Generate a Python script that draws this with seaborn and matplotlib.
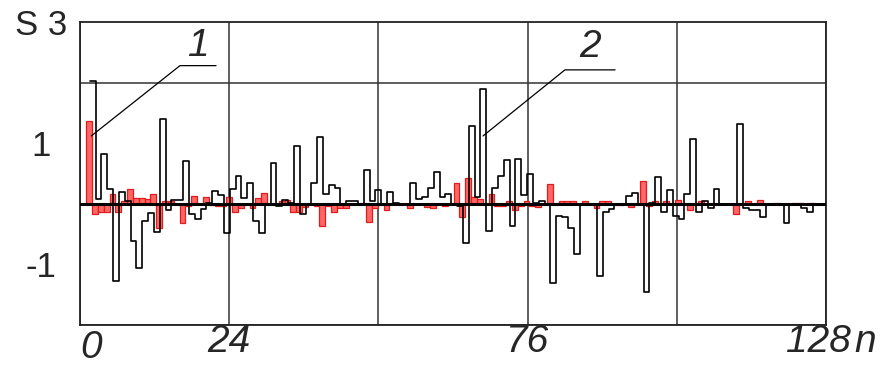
import numpy as np
import matplotlib.pyplot as plt
import matplotlib.transforms as mtransforms
import seaborn as sns

# curve 2 (black steps), samples n = 1..126
black_vals = [2.03, 0.08, 0.82, 0.24, -1.28, 0.19, 0.04, -0.62, -1.06, -0.28,
              -0.15, -0.47, 1.40, -0.10, 0.07, 0.06, 0.70, -0.17, -0.25, -0.09,
              0.01, 0.21, 0.15, -0.48, 0.24, 0.46, 0.09, 0.35, -0.29, -0.48,
              0.00, 0.67, -0.04, 0.07, 0.01, 0.95, -0.17, 0.00, 0.35, 1.10,
              0.16, 0.31, 0.26, 0.00, 0.05, 0.05, 0.00, 0.55, 0.05, 0.22,
              0.00, 0.19, 0.02, 0.00, 0.00, 0.35, 0.08, 0.12, 0.26, 0.52,
              0.11, 0.16, 0.00, -0.03, -0.64, 1.28, 0.12, 1.90, -0.45, 0.26,
              0.46, 0.72, -0.36, 0.74, 0.15, 0.50, 0.02, 0.05, 0.00, -1.30,
              -0.20, -0.22, -0.40, -0.83, -0.02, -0.02, -0.02, -1.19, -0.13, -0.08,
              -0.02, 0.00, 0.13, 0.18, 0.00, -1.45, 0.02, 0.44, -0.13, 0.22,
              -0.20, -0.25, 0.16, 1.07, -0.14, 0.04, -0.07, 0.24, 0.00, 0.00,
              0.00, 1.32, -0.07, -0.10, -0.10, -0.21, -0.02, -0.02, 0.00, -0.32,
              -0.02, -0.02, -0.07, -0.14, -0.02, -0.02]

# curve 1 (red bars), samples n = 0..126
red_vals = [1.37, -0.17, -0.13, -0.13, 0.16, -0.14, 0.05, 0.24, 0.09, 0.09,
            0.08, 0.16, -0.40, 0.04, 0.05, 0.00, -0.32, -0.04, 0.13, 0.00,
            0.12, -0.02, -0.04, -0.04, 0.12, -0.13, -0.07, 0.00, -0.07, 0.09,
            0.18, 0.00, -0.02, 0.05, 0.07, -0.13, -0.13, -0.05, 0.00, -0.03,
            -0.36, -0.04, -0.14, -0.07, -0.07, 0.00, 0.00, 0.02, -0.30, -0.07,
            0.00, -0.10, 0.00, 0.00, 0.00, -0.07, 0.00, 0.00, -0.06, -0.07,
            0.00, -0.04, 0.00, 0.35, -0.21, 0.42, 0.12, 0.08, 0.00, 0.16,
            -0.03, -0.03, 0.04, -0.10, -0.04, 0.04, -0.04, -0.06, 0.00, 0.33,
            0.00, 0.04, 0.04, 0.04, 0.00, 0.04, 0.00, -0.07, 0.04, 0.04,
            0.00, -0.02, 0.00, -0.06, 0.00, 0.37, -0.04, 0.04, 0.00, 0.04,
            0.00, 0.07, 0.00, -0.10, 0.00, 0.04, 0.00, 0.00, 0.00, 0.00,
            0.00, -0.17, 0.00, 0.04, 0.00, 0.07, 0.00, 0.00, 0.02, 0.00,
            0.00, 0.02, 0.02, 0.00, 0.02, 0.00, 0.00]

x_labels = ['0', '24', '76', '128']
y_labels = ['-1', '1', 'S 3']

sns.set_style('white')
plt.rcParams['font.family'] = ['Liberation Sans', 'DejaVu Sans']
narrow = ['Liberation Sans Narrow', 'Liberation Sans', 'DejaVu Sans']

x_lo, x_hi = -1.08, 126.88
black_shift = -0.4

fig = plt.figure(figsize=(8.86, 3.65), dpi=100)
ax = fig.add_axes([80 / 886, 40 / 365, 746 / 886, 303 / 365])

# red bars, one unit wide
n_red = np.arange(len(red_vals))
sns.barplot(x=n_red + 0.5, y=red_vals, native_scale=True, width=1.0,
            color='#ff6666', saturation=1, edgecolor='#e01c1c', linewidth=0.9,
            errorbar=None, ax=ax, zorder=2)

# black step curve
n_blk = np.arange(1, len(black_vals) + 2) + black_shift
y_blk = black_vals + [black_vals[-1]]
sns.lineplot(x=n_blk, y=y_blk, drawstyle='steps-post', estimator=None, sort=False,
             color='black', linewidth=1.2, ax=ax, zorder=4)

ax.axhline(0, color='black', linewidth=2.2, zorder=3)

ax.set_xlim(x_lo, x_hi)
ax.set_ylim(-2, 3)
ax.set_xticks(np.linspace(x_lo, x_hi, 6), minor=True)
ax.set_yticks([-2, -1, 0, 1, 2, 3], minor=True)
ax.grid(which='minor', color='#333333', linewidth=1.1)
ax.grid(which='major', visible=False)
ax.set_axisbelow(True)
ax.set_xticks([])
ax.set_yticks([-1, 1, 3])
ax.set_yticklabels(y_labels, fontsize=25)
ax.tick_params(axis='y', which='both', length=0, pad=28)
ax.tick_params(axis='x', which='both', length=0)
for lab in ax.get_yticklabels():
    lab.set_horizontalalignment('center')
ax.set_xlabel('')
ax.set_ylabel('')
for sp in ax.spines.values():
    sp.set_color('#222222')
    sp.set_linewidth(1.3)

# x labels
trans = mtransforms.blended_transform_factory(ax.transData, ax.transAxes)
grid_x = np.linspace(x_lo, x_hi, 6)
x_pos = [0.8, grid_x[1], grid_x[3], 125.5]
x_y = [-0.075, -0.055, -0.055, -0.055]
for lab, xp, yp in zip(x_labels, x_pos, x_y):
    ax.text(xp, yp, lab, transform=trans, ha='center', va='center',
            fontsize=28, style='italic', family=narrow, clip_on=False)
ax.text(x_hi + 6.8, -0.055, 'n', transform=trans, ha='center', va='center',
        fontsize=28, style='italic', family=narrow, clip_on=False)

# leader lines with curve numbers
ax.plot([0.86, 16.07, 22.25], [1.12, 2.28, 2.28], color='black', linewidth=0.9, zorder=5)
ax.text(19.3, 2.6, '1', ha='center', va='center', fontsize=28, style='italic', family=narrow)
ax.plot([68.05, 82.1, 90.7], [1.12, 2.21, 2.21], color='black', linewidth=0.9, zorder=5)
ax.text(86.4, 2.58, '2', ha='center', va='center', fontsize=28, style='italic', family=narrow)

fig.savefig('out.png', dpi=100)
